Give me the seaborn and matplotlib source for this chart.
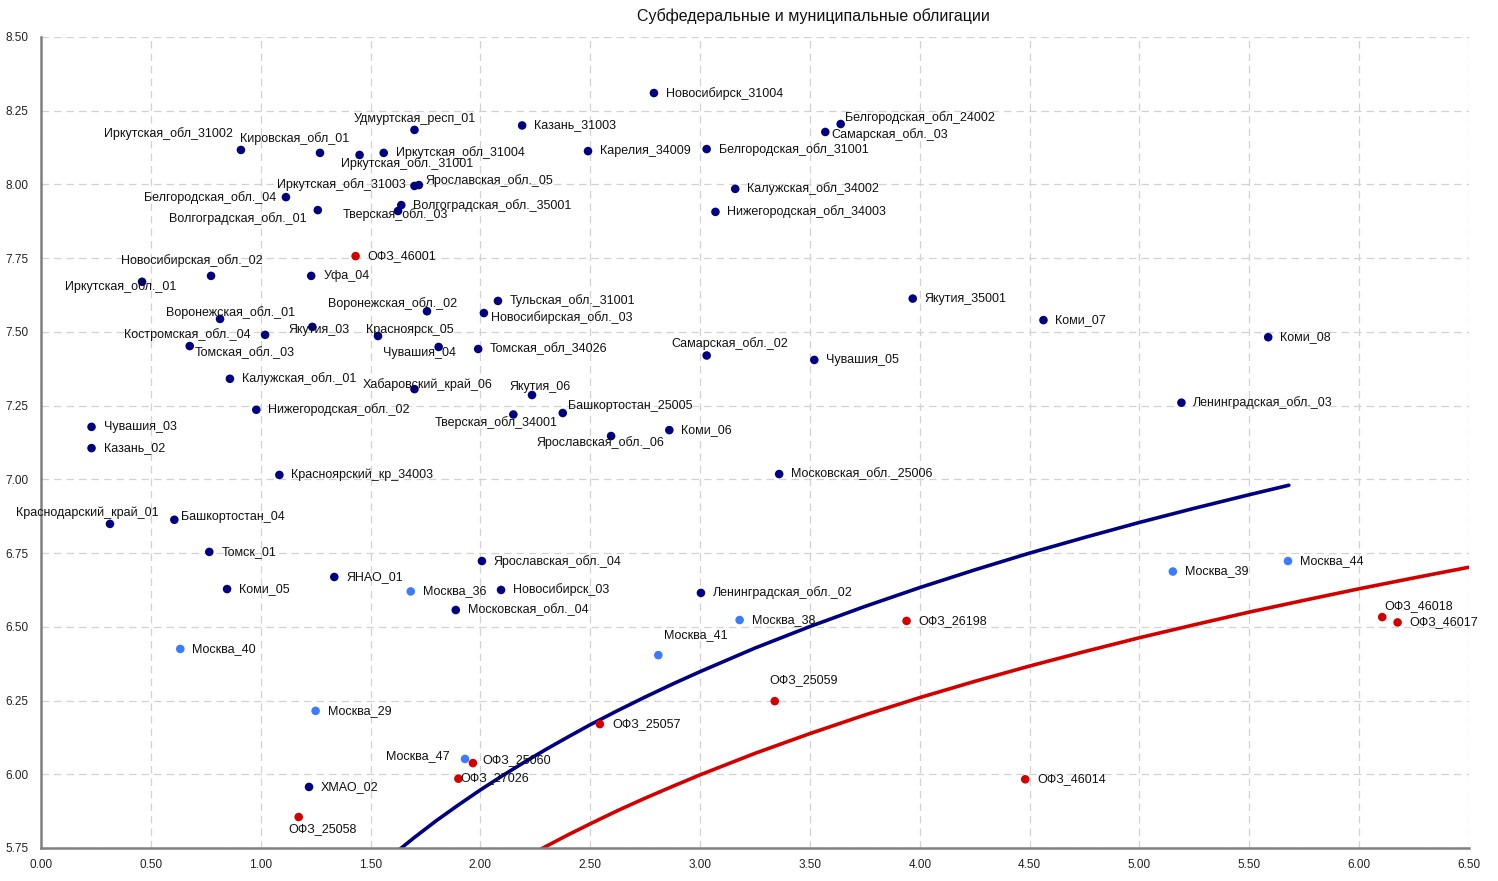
import matplotlib
matplotlib.use("Agg")
import matplotlib.pyplot as plt
import seaborn as sns
import pandas as pd

# regional / municipal bonds (navy)
region_names = [
    "Новосибирск_31004", "Удмуртская_респ_01", "Казань_31003", "Иркутская_обл_31002",
    "Кировская_обл_01", "Иркутская_обл._31001", "Иркутская_обл_31004", "Карелия_34009",
    "Белгородская_обл_31001", "Белгородская_обл_24002", "Самарская_обл._03",
    "Иркутская_обл_31003", "Ярославская_обл._05", "Белгородская_обл._04",
    "Волгоградская_обл._01", "Тверская_обл._03", "Волгоградская_обл._35001",
    "Калужская_обл_34002", "Нижегородская_обл_34003", "Новосибирская_обл._02",
    "Иркутская_обл._01", "Уфа_04", "Тульская_обл._31001", "Воронежская_обл._02",
    "Новосибирская_обл._03", "Якутия_35001", "Коми_07", "Коми_08",
    "Воронежская_обл._01", "Якутия_03", "Костромская_обл._04", "Красноярск_05",
    "Томская_обл._03", "Чувашия_04", "Томская_обл_34026", "Самарская_обл._02",
    "Чувашия_05", "Калужская_обл._01", "Хабаровский_край_06", "Якутия_06",
    "Нижегородская_обл._02", "Башкортостан_25005", "Тверская_обл_34001",
    "Ленинградская_обл._03", "Чувашия_03", "Коми_06", "Ярославская_обл._06",
    "Казань_02", "Красноярский_кр_34003", "Московская_обл._25006",
    "Краснодарский_край_01", "Башкортостан_04", "Томск_01", "Ярославская_обл._04",
    "ЯНАО_01", "Коми_05", "Новосибирск_03", "Ленинградская_обл._02",
    "Московская_обл._04", "ХМАО_02",
]
region_x = [
    2.79, 1.70, 2.19, 0.91, 1.27, 1.45, 1.56, 2.49, 3.03, 3.64, 3.57,
    1.70, 1.72, 1.115, 1.26, 1.625, 1.64, 3.16, 3.07, 0.774,
    0.46, 1.23, 2.08, 1.757, 2.016, 3.968, 4.563, 5.586,
    0.815, 1.235, 1.02, 1.534, 0.677, 1.81, 1.99, 3.03,
    3.52, 0.86, 1.70, 2.235, 0.98, 2.375, 2.15,
    5.191, 0.23, 2.86, 2.595, 0.23, 1.085, 3.36,
    0.314, 0.607, 0.766, 2.007, 1.335, 0.847, 2.094, 3.004,
    1.888, 1.22,
]
region_y = [
    8.31, 8.185, 8.20, 8.117, 8.107, 8.10, 8.107, 8.113, 8.12, 8.205, 8.178,
    7.995, 7.998, 7.957, 7.913, 7.91, 7.93, 7.985, 7.907, 7.69,
    7.67, 7.69, 7.605, 7.57, 7.564, 7.613, 7.54, 7.482,
    7.544, 7.517, 7.49, 7.486, 7.452, 7.449, 7.442, 7.42,
    7.405, 7.341, 7.306, 7.286, 7.236, 7.225, 7.22,
    7.26, 7.178, 7.167, 7.147, 7.106, 7.015, 7.018,
    6.849, 6.863, 6.754, 6.723, 6.669, 6.628, 6.625, 6.615,
    6.557, 5.957,
]

# Moscow bonds (light blue)
moscow_names = ["Москва_36", "Москва_40", "Москва_29", "Москва_47",
                "Москва_41", "Москва_38", "Москва_39", "Москва_44"]
moscow_x = [1.683, 0.634, 1.25, 1.93, 2.81, 3.18, 5.152, 5.676]
moscow_y = [6.62, 6.425, 6.215, 6.052, 6.404, 6.523, 6.6875, 6.723]

# federal loan bonds (red)
ofz_names = ["ОФЗ_46001", "ОФЗ_25058", "ОФЗ_27026", "ОФЗ_25060", "ОФЗ_25057",
             "ОФЗ_25059", "ОФЗ_26198", "ОФЗ_46014", "ОФЗ_46018", "ОФЗ_46017"]
ofz_x = [1.432, 1.173, 1.90, 1.966, 2.544, 3.34, 3.94, 4.48, 6.105, 6.175]
ofz_y = [7.757, 5.855, 5.985, 6.038, 6.17, 6.248, 6.52, 5.983, 6.533, 6.515]

# trend curves
navy_curve_x = [1.60, 1.70, 1.80, 1.90, 2.00, 2.10, 2.20, 2.30, 2.40, 2.50,
                2.625, 2.75, 2.875, 3.00, 3.25, 3.50, 3.75, 4.00, 4.25, 4.50,
                4.75, 5.00, 5.25, 5.50, 5.68]
navy_curve_y = [5.726, 5.786, 5.843, 5.896, 5.947, 5.995, 6.041, 6.085, 6.127, 6.168,
                6.216, 6.262, 6.306, 6.348, 6.428, 6.501, 6.569, 6.633, 6.693, 6.750,
                6.803, 6.854, 6.902, 6.948, 6.980]
red_curve_x = [2.20, 2.30, 2.40, 2.50, 2.625, 2.75, 2.875, 3.00, 3.25, 3.50,
               3.75, 4.00, 4.25, 4.50, 4.75, 5.00, 5.25, 5.50, 5.75, 6.00,
               6.25, 6.50]
red_curve_y = [5.716, 5.756, 5.795, 5.832, 5.877, 5.919, 5.959, 5.998, 6.071, 6.138,
               6.201, 6.260, 6.315, 6.367, 6.416, 6.463, 6.507, 6.550, 6.590, 6.629,
               6.666, 6.702]

x_ticks = [0.0, 0.5, 1.0, 1.5, 2.0, 2.5, 3.0, 3.5, 4.0, 4.5, 5.0, 5.5, 6.0, 6.5]
y_ticks = [5.75, 6.0, 6.25, 6.5, 6.75, 7.0, 7.25, 7.5, 7.75, 8.0, 8.25, 8.5]

# label placement: (dx px, dy px, ha); default is right of the dot
label_pos = {
    "Удмуртская_респ_01": (0, 11, "center"),
    "Иркутская_обл_31002": (-8, 16, "right"),
    "Кировская_обл_01": (-25, 14, "center"),
    "Иркутская_обл._31001": (-19, -9, "left"),
    "Белгородская_обл_24002": (4, 6, "left"),
    "Самарская_обл._03": (6, -3, "left"),
    "Иркутская_обл_31003": (-9, 1, "right"),
    "Ярославская_обл._05": (7, 5, "left"),
    "Белгородская_обл._04": (-10, 0, "right"),
    "Волгоградская_обл._01": (-11, -8, "right"),
    "Тверская_обл._03": (-3, -4, "center"),
    "Новосибирская_обл._02": (-19, 15, "center"),
    "Иркутская_обл._01": (-21, -5, "center"),
    "Воронежская_обл._02": (-34, 8, "center"),
    "Новосибирская_обл._03": (7, -4, "left"),
    "Воронежская_обл._01": (11, 6, "center"),
    "Якутия_03": (7, -3, "center"),
    "Костромская_обл._04": (-14, 0, "right"),
    "Красноярск_05": (-12, 6, "left"),
    "Томская_обл._03": (5, -7, "left"),
    "Чувашия_04": (-19, -6, "center"),
    "Самарская_обл._02": (23, 12, "center"),
    "Хабаровский_край_06": (13, 5, "center"),
    "Якутия_06": (8, 8, "center"),
    "Башкортостан_25005": (5, 7, "left"),
    "Тверская_обл_34001": (-17, -8, "center"),
    "Ярославская_обл._06": (-11, -7, "center"),
    "Краснодарский_край_01": (-23, 11, "center"),
    "Башкортостан_04": (7, 3, "left"),
    "Москва_47": (-15, 3, "right"),
    "Москва_41": (6, 20, "left"),
    "ОФЗ_25058": (-10, -12, "left"),
    "ОФЗ_27026": (2, 1, "left"),
    "ОФЗ_25060": (9, 3, "left"),
    "ОФЗ_25059": (-5, 21, "left"),
    "ОФЗ_46018": (2, 11, "left"),
}

NAVY = "#000080"
LIGHT = "#3a7bff"
RED = "#d40000"

df = pd.DataFrame({
    "name": region_names + moscow_names + ofz_names,
    "x": region_x + moscow_x + ofz_x,
    "y": region_y + moscow_y + ofz_y,
    "group": ["region"] * len(region_names) + ["moscow"] * len(moscow_names) + ["ofz"] * len(ofz_names),
})

sns.set_style("white")
plt.rcParams["font.family"] = ["Liberation Sans", "DejaVu Sans"]

fig = plt.figure(figsize=(14.98, 8.81), dpi=100)
ax = fig.add_axes([41 / 1498, 33 / 881, 1428 / 1498, 811 / 881])

for cx, cy, col in [(navy_curve_x, navy_curve_y, NAVY), (red_curve_x, red_curve_y, RED)]:
    sns.lineplot(x=cx, y=cy, ax=ax, color=col, linewidth=2.6, sort=False,
                 estimator=None, solid_joinstyle="round", solid_capstyle="round")
sns.scatterplot(data=df, x="x", y="y", hue="group", ax=ax, s=38, linewidth=0,
                palette={"region": NAVY, "moscow": LIGHT, "ofz": RED}, legend=False,
                zorder=3)

for name, x, y in zip(df["name"], df["x"], df["y"]):
    dx, dy, ha = label_pos.get(name, (12, 0, "left"))
    ax.annotate(name, (x, y), xytext=(dx, dy), textcoords="offset pixels",
                ha=ha, va="center", fontsize=9, color="#111111", zorder=4)

ax.set_xlim(0, 6.5)
ax.set_ylim(5.75, 8.5)
ax.set_xticks(x_ticks)
ax.set_yticks(y_ticks)
ax.set_xticklabels([f"{v:.2f}" for v in x_ticks])
ax.set_yticklabels([f"{v:.2f}" for v in y_ticks])
ax.tick_params(axis="both", length=0, labelsize=8.5, colors="#222222")
ax.tick_params(axis="y", pad=9)
ax.tick_params(axis="x", pad=8)
ax.grid(True, linestyle=(0, (6, 4)), color="#d2d2d2", linewidth=0.9)
ax.set_axisbelow(True)
ax.set_xlabel("")
ax.set_ylabel("")
for side in ["top", "right"]:
    ax.spines[side].set_visible(False)
for side in ["left", "bottom"]:
    ax.spines[side].set_color("#808080")
    ax.spines[side].set_linewidth(1.8)

fig.text(813 / 1498, 1 - 16 / 881, "Субфедеральные и муниципальные облигации",
         ha="center", va="center", fontsize=11.5, color="#111111")

fig.savefig("out.png", dpi=100)
